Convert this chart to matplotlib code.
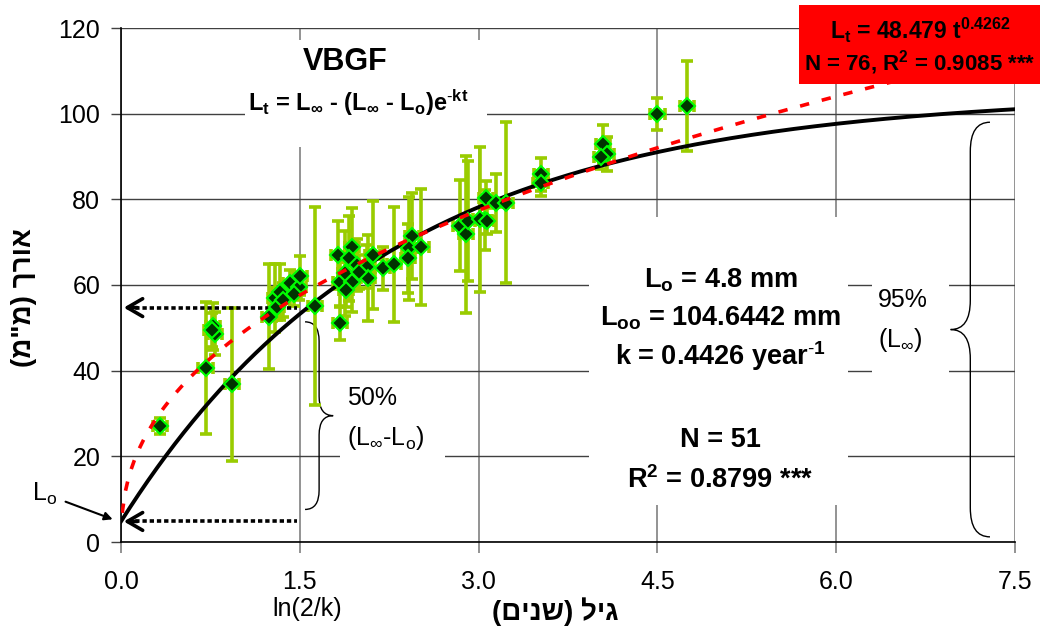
import numpy as np
import matplotlib
matplotlib.use('Agg')
import matplotlib.pyplot as plt
from matplotlib.path import Path
from matplotlib.patches import PathPatch, Rectangle

plt.rcParams['font.family'] = ['Liberation Sans', 'DejaVu Sans']
plt.rcParams['mathtext.fontset'] = 'custom'
plt.rcParams['mathtext.rm'] = 'Liberation Sans'
plt.rcParams['mathtext.it'] = 'Liberation Sans'
plt.rcParams['mathtext.bf'] = 'Liberation Sans:bold'

# גיל (שנים) מול אורך (מ"מ), ממוצע + סטיית תקן
age = [0.33, 0.71, 0.77, 0.79, 0.76, 0.93, 1.24, 1.29, 1.33, 1.31, 1.36, 1.42, 1.49,
       1.50, 1.45, 1.63, 1.84, 1.82, 1.935, 1.91, 1.977, 1.84, 1.88, 1.935, 1.89, 2.06,
       2.11, 2.075, 2.195, 2.29, 2.44, 2.42, 2.52, 2.41, 2.844, 2.894, 2.91, 3.06, 3.054,
       3.01, 3.068, 3.146, 3.23, 3.523, 3.52, 4.046, 4.075, 4.03, 4.50, 4.75, 2.00]
length = [27.1, 40.7, 50.4, 48.6, 49.5, 36.8, 52.6, 57.0, 58.4, 54.9, 56.5, 60.4, 59.6,
          62.2, 58.0, 55.1, 51.1, 67.0, 68.9, 66.2, 64.7, 60.8, 62.7, 60.8, 58.8, 64.3,
          67.0, 61.6, 63.9, 64.8, 71.4, 68.6, 68.8, 66.2, 73.8, 71.8, 74.9, 80.2, 75.2,
          75.3, 75.0, 79.2, 79.2, 85.8, 83.7, 92.9, 90.6, 90.0, 100.0, 101.8, 63.0]
length_sd = [1.8, 15.4, 5.5, 5.0, 4.0, 17.9, 12.2, 8.0, 6.5, 3.0, 4.0, 3.0, 3.0,
             4.5, 3.0, 23.0, 4.0, 8.0, 9.0, 10.0, 6.0, 6.0, 10.0, 7.0, 4.0, 5.0,
             12.5, 10.0, 5.0, 13.5, 10.0, 12.0, 13.5, 8.0, 10.6, 18.4, 14.0, 4.0, 7.0,
             17.0, 3.0, 6.8, 18.8, 3.9, 3.0, 4.5, 4.0, 3.0, 3.7, 10.5, 4.0]
age_sd = 0.06

# פרמטרים של המודלים
L0 = 4.8
Linf = 104.6442
k = 0.4426
a_pow = 48.479
b_pow = 0.4262


def visual(s):
    # matplotlib אינו הופך טקסט מימין לשמאל
    return s[::-1].translate(str.maketrans('()', ')('))


def brace(ax, x_end, x_tip, y0, y1, r):
    xs = (x_end + x_tip) / 2
    ym = (y0 + y1) / 2
    verts = [(x_end, y1), (xs, y1), (xs, y1 - r), (xs, ym + r), (xs, ym), (x_tip, ym),
             (xs, ym), (xs, ym - r), (xs, y0 + r), (xs, y0), (x_end, y0)]
    codes = [Path.MOVETO, Path.CURVE3, Path.CURVE3, Path.LINETO, Path.CURVE3, Path.CURVE3,
             Path.CURVE3, Path.CURVE3, Path.LINETO, Path.CURVE3, Path.CURVE3]
    ax.add_patch(PathPatch(Path(verts, codes), fc='none', ec='black', lw=1, zorder=1.5,
                           clip_on=False))


fig = plt.figure(figsize=(10.4, 6.35), dpi=100)
ax = fig.add_axes([121 / 1040, 93 / 635, 894 / 1040, 514 / 635])

ax.set_xlim(0, 7.5)
ax.set_ylim(0, 120)
ax.set_xticks(np.arange(0, 7.6, 1.5))
ax.set_xticklabels(['%.1f' % v for v in np.arange(0, 7.6, 1.5)])
ax.set_yticks(np.arange(0, 121, 20))
ax.set_axisbelow(True)
ax.yaxis.grid(True, color='#404040', lw=1)
ax.xaxis.grid(True, color='#8a8a8a', lw=1.3)
for s in ['top', 'right']:
    ax.spines[s].set_visible(False)
ax.spines['left'].set_linewidth(1.2)
ax.spines['bottom'].set_linewidth(1.2)
ax.tick_params(axis='x', direction='out', length=8, width=1.3, color='#8a8a8a',
               labelsize=18, pad=12)
ax.tick_params(axis='y', direction='out', length=7, width=1, color='#404040',
               labelsize=18, pad=8)

# רקע לבן מתחת לתיבות הטקסט
for (x0, y0, w, h) in [(1.04, 92.2, 2.03, 25.0), (3.93, 8.6, 2.17, 67.3),
                       (1.84, 18.7, 0.88, 19.6), (6.30, 38.3, 0.65, 24.0)]:
    ax.add_patch(Rectangle((x0, y0), w, h, fc='white', ec='none', zorder=1))

# נתונים
ax.errorbar(age, length, yerr=length_sd, xerr=age_sd, fmt='none', ecolor='#99cc00',
            elinewidth=2.6, capsize=4.5, capthick=2.6, zorder=2)

t = np.linspace(0, 7.5, 300)
ax.plot(t, Linf - (Linf - L0) * np.exp(-k * t), color='black', lw=2.8, zorder=3)
ax.plot(age, length, ls='none', marker='D', ms=8.5, mfc='#003300', mec='#00ff00',
        mew=1.5, zorder=4)
tp = np.linspace(0.01, 7.5, 300)
ax.plot(tp, a_pow * tp ** b_pow, color='red', lw=2.6, ls=(0, (2.6, 3.6)), zorder=5)

# חיצים מקווקווים
t_half = np.log(2) / k
L_half = Linf - (Linf - L0) * 0.5
for yv in [L_half, L0]:
    ax.plot([0.06, t_half - 0.09], [yv, yv], color='black', lw=2.6, ls=(0, (1.2, 0.8)),
            zorder=3)
    ax.annotate('', xy=(0, yv), xytext=(0.16, yv),
                arrowprops=dict(arrowstyle='->,head_length=0.55,head_width=0.32',
                                lw=2.6, color='black', mutation_scale=20),
                annotation_clip=False, zorder=3)

ax.annotate(r'L$_\mathrm{o}$', xy=(-0.07, 5.3), xytext=(45, 635 - 494),
            textcoords='figure pixels', ha='center', va='center', fontsize=18,
            arrowprops=dict(arrowstyle='-|>', lw=1.5, color='black', mutation_scale=12,
                            shrinkA=4, shrinkB=0),
            annotation_clip=False)

brace(ax, 1.544, 1.78, 7.6, 51.4, 4.5)
brace(ax, 7.29, 6.96, 1.2, 98.0, 6.8)

ax.text(1.90, 33.6, '50%', fontsize=18, ha='left', va='center', zorder=2)
ax.text(1.90, 24.3, r'(L$_\infty$-L$_\mathrm{o}$)', fontsize=18, ha='left', va='center',
        zorder=2)
ax.text(6.35, 56.5, '95%', fontsize=18, ha='left', va='center', zorder=2)
ax.text(6.35, 47.2, r'(L$_\infty$)', fontsize=18, ha='left', va='center', zorder=2)

ax.text(1.88, 112.1, 'VBGF', fontsize=22, fontweight='bold', ha='center', va='center',
        zorder=2)
ax.text(1.99, 102.5,
        r'L$_\mathbf{t}$ = L$_\mathbf{\infty}$ - (L$_\mathbf{\infty}$ - L$_\mathbf{o}$)e$^{\text{-}\mathbf{kt}}$',
        fontsize=17, fontweight='bold', ha='center', va='center', zorder=2)

stats = [(61.2, r'L$_\mathbf{o}$ = 4.8 mm'),
         (52.3, r'L$_\mathbf{oo}$ = 104.6442 mm'),
         (43.4, r'k = 0.4426 year$^{\text{-}\mathbf{1}}$'),
         (23.8, 'N = 51'),
         (14.5, r'R$^\mathbf{2}$ = 0.8799 ***')]
for yv, s in stats:
    ax.text(5.03, yv, s, fontsize=19.5, fontweight='bold', ha='center', va='center',
            zorder=2)

# תיבת מודל החזקה
fig.add_artist(Rectangle((799 / 1040, 1 - 84 / 635), 241 / 1040, 79 / 635,
                         transform=fig.transFigure, fc='red', ec='none', zorder=5))
fig.text(920 / 1040, 1 - 30 / 635, r'L$_\mathbf{t}$ = 48.479 t$^\mathbf{0.4262}$',
         fontsize=16.5, fontweight='bold', ha='center', va='center', zorder=6)
fig.text(920 / 1040, 1 - 63 / 635, r'N = 76, R$^\mathbf{2}$ = 0.9085 ***',
         fontsize=16, fontweight='bold', ha='center', va='center', zorder=6)

fig.text(24 / 1040, 1 - 298 / 635, visual('אורך (מ"מ)'), rotation=90, fontsize=20,
         fontweight='bold', ha='center', va='center')
fig.text(555 / 1040, 1 - 612 / 635, visual('גיל (שנים)'), fontsize=20,
         fontweight='bold', ha='center', va='center')
fig.text(307 / 1040, 1 - 609 / 635, 'ln(2/k)', fontsize=18, ha='center', va='center')

fig.savefig('out.png', dpi=100)
